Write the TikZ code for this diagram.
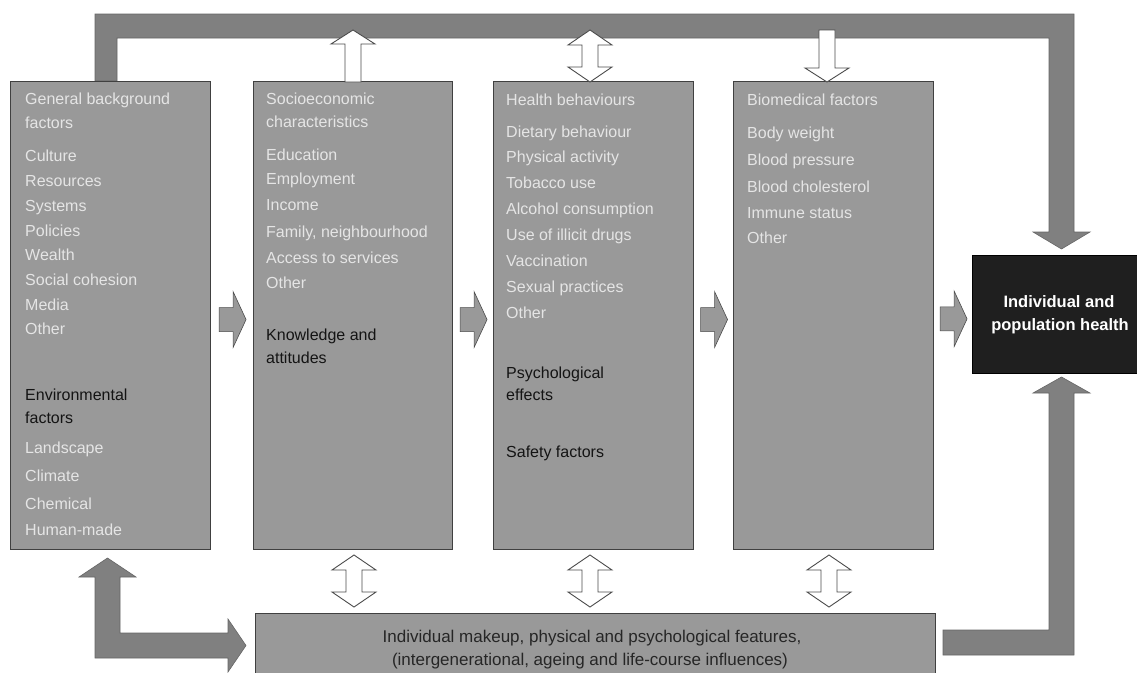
\documentclass[tikz,border=0pt]{standalone}
\usepackage{fontspec}
\setmainfont{Liberation Sans}
\usetikzlibrary{calc}
\definecolor{boxgray}{gray}{0.60}
\definecolor{bargray}{gray}{0.50}
\definecolor{itemink}{gray}{0.90}
\definecolor{subink}{gray}{0.08}
\begin{document}
\begin{tikzpicture}[x=1pt,y=-1pt,
  factorbox/.style={draw=black!75, line width=1.1pt, fill=boxgray, inner sep=0pt},
  bigarrow/.style={fill=bargray, draw=black!60, line width=0.6pt},
  smallarrow/.style={fill=boxgray, draw=black!70, line width=0.6pt},
  hollow/.style={fill=white, draw=black!70, line width=0.9pt},
  item/.style={font=\fontsize{16}{19}\selectfont, text=itemink, inner sep=0pt, anchor=base west},
  subhead/.style={item, text=subink},
  makeup/.style={font=\fontsize{17}{20}\selectfont, text=black!85, inner sep=0pt, anchor=base},
  healthtext/.style={font=\fontsize{16.5}{20}\selectfont\bfseries, text=white, inner sep=0pt, anchor=base},
  pics/fwdarrow/.style={code={
    \filldraw[smallarrow] (-13,-12) -- (1,-12) -- (1,-28) -- (14,0) -- (1,28) -- (1,12) -- (-13,12) -- cycle;}},
  pics/twoway/.style={code={
    \filldraw[hollow] (-8,-11) -- (-22,-11) -- (0,-26) -- (22,-11) -- (8,-11) -- (8,11) -- (22,11) -- (0,26) -- (-22,11) -- (-8,11) -- cycle;}},
  pics/oneup/.style={code={
    \filldraw[hollow] (-8,26) -- (-8,-12) -- (-22,-12) -- (0,-26) -- (22,-12) -- (8,-12) -- (8,26) -- cycle;}},
  pics/onedown/.style={code={
    \filldraw[hollow] (-8,-26) -- (-8,12) -- (-22,12) -- (0,26) -- (22,12) -- (8,12) -- (8,-26) -- cycle;}}
]
\useasboundingbox (0,0) rectangle (1137,672);

% feedback bar across the top, ending in a downward arrow on the outcome box
\filldraw[bigarrow] (95,81) -- (95,14) -- (1074,14) -- (1074,232) -- (1090,232)
  -- (1061.5,249) -- (1033,232) -- (1049,232) -- (1049,38) -- (117,38) -- (117,81) -- cycle;

% the four factor columns
\node[factorbox, anchor=north west, minimum width=200, minimum height=468] (b1) at (10,81) {};
\node[factorbox, anchor=north west, minimum width=199, minimum height=468] (b2) at (253,81) {};
\node[factorbox, anchor=north west, minimum width=200, minimum height=468] (b3) at (493,81) {};
\node[factorbox, anchor=north west, minimum width=200, minimum height=468] (b4) at (733,81) {};

% individual make-up strip along the bottom
\node[factorbox, anchor=north west, minimum width=680, minimum height=70] (mk) at (255,613) {};

% outcome box
\node[fill=black!88, draw=black, anchor=north west, minimum width=170, minimum height=118, inner sep=0pt] (hl) at (972,255) {};

% L-shaped arrows at the bottom corners
\filldraw[bigarrow] (95,658) -- (95,577) -- (79,577) -- (107.5,558) -- (136,577) -- (120,577)
  -- (120,633) -- (228,633) -- (228,619) -- (246,645.5) -- (228,672) -- (228,658) -- cycle;
\filldraw[bigarrow] (943,630) -- (1049,630) -- (1049,393) -- (1033,393) -- (1061.5,377)
  -- (1090,393) -- (1074,393) -- (1074,655) -- (943,655) -- cycle;

% forward arrows between the columns
\pic at ($(b1.east)!0.5!(b2.west)+(0,4)$) {fwdarrow};
\pic at ($(b2.east)!0.5!(b3.west)+(0,4)$) {fwdarrow};
\pic at ($(b3.east)!0.5!(b4.west)+(0,4)$) {fwdarrow};
\pic at ($(b4.east)!0.5!(hl.west)+(0,4)$) {fwdarrow};

% links between the columns and the top bar
\pic at (353,56) {oneup};
\pic at (590,56) {twoway};
\pic at (827,56) {onedown};

% links between the columns and the bottom strip
\pic at (354,581) {twoway};
\pic at (590,581) {twoway};
\pic at (829,581) {twoway};

% column 1
\foreach \yy/\txt [count=\i] in {104/General background, 128/factors, 161/Culture, 186/Resources,
  211/Systems, 236/Policies, 260/Wealth, 285/Social cohesion, 310/Media, 334/Other}
  \node[item] (ga\i) at (25,\yy) {\txt};
\foreach \yy/\txt [count=\i] in {400/Environmental, 423/factors}
  \node[subhead] (gb\i) at (25,\yy) {\txt};
\foreach \yy/\txt [count=\i] in {453/Landscape, 481/Climate, 509/Chemical, 535/Human-made}
  \node[item] (gc\i) at (25,\yy) {\txt};

% column 2
\foreach \yy/\txt [count=\i] in {104/Socioeconomic, 127/characteristics, 160/Education,
  184/Employment, 210/Income, 237/{Family, neighbourhood}, 263/Access to services, 288/Other}
  \node[item] (sa\i) at (266,\yy) {\txt};
\foreach \yy/\txt [count=\i] in {340/Knowledge and, 363/attitudes}
  \node[subhead] (sb\i) at (266,\yy) {\txt};

% column 3
\foreach \yy/\txt [count=\i] in {105/Health behaviours, 137/Dietary behaviour, 162/Physical activity,
  188/Tobacco use, 214/Alcohol consumption, 240/Use of illicit drugs, 266/Vaccination,
  292/Sexual practices, 318/Other}
  \node[item] (ha\i) at (506,\yy) {\txt};
\foreach \yy/\txt [count=\i] in {378/Psychological, 400/effects, 457/Safety factors}
  \node[subhead] (hb\i) at (506,\yy) {\txt};

% column 4
\foreach \yy/\txt [count=\i] in {105/Biomedical factors, 138/Body weight, 165/Blood pressure,
  192/Blood cholesterol, 218/Immune status, 243/Other}
  \node[item] (ma\i) at (747,\yy) {\txt};

% bottom strip text
\node[makeup] (mk1) at (592,642) {Individual makeup, physical and psychological features,};
\node[makeup] (mk2) at (590,665) {(intergenerational, ageing and life-course influences)};

% outcome text
\node[healthtext] (hl1) at (1059,307) {Individual and};
\node[healthtext] (hl2) at (1060,330) {population health};
\end{tikzpicture}
\end{document}
